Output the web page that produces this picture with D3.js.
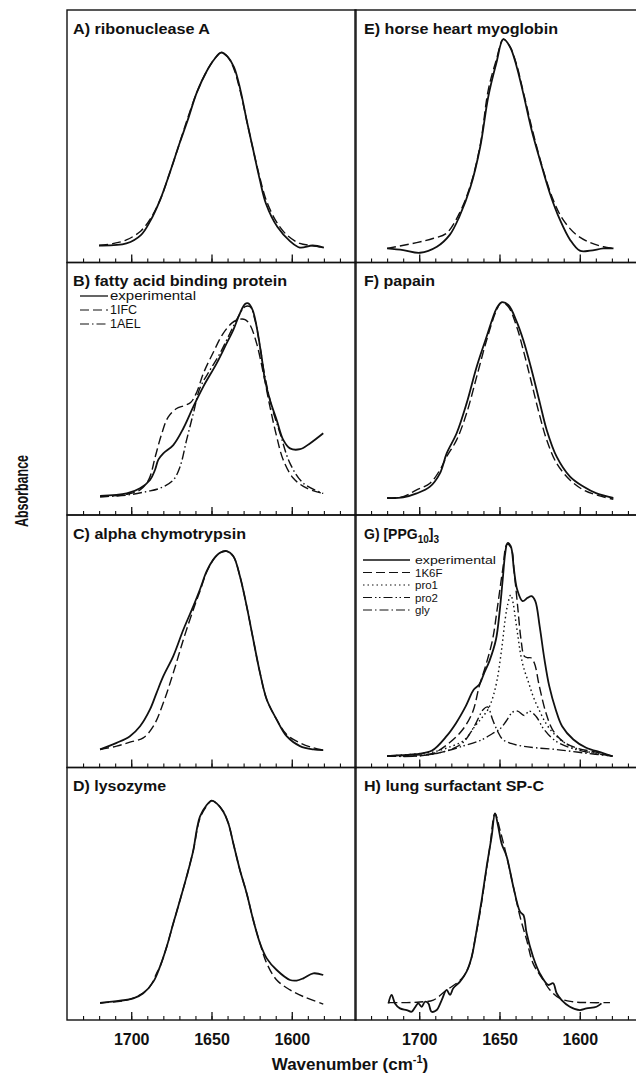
<!DOCTYPE html>
<html>
<head>
<meta charset="utf-8">
<script src="https://cdn.jsdelivr.net/npm/d3@7"></script>
<style>
  body { margin: 0; background: #fff; }
  text { font-family: "Liberation Sans", Arial, sans-serif; fill: #111; }
</style>
</head>
<body>
<div id="chart"></div>
<script>
// wavenumber (cm-1), absorbance (normalised)
const expA = [[1720,0],[1703,0.01],[1694,0.05],[1688,0.12],[1682,0.22],[1676,0.35],[1670,0.49],[1665,0.6],[1659,0.74],[1653,0.84],[1648,0.9],[1644,0.93],[1640,0.91],[1636,0.86],[1632,0.75],[1628,0.6],[1624,0.46],[1620,0.32],[1616,0.2],[1609,0.09],[1601,0.02],[1595,-0.01],[1587,0],[1580,-0.01]];
const calcA = [[1720,0],[1711,0.01],[1703,0.027],[1694,0.07],[1688,0.13],[1682,0.22],[1676,0.35],[1670,0.49],[1665,0.61],[1659,0.74],[1653,0.84],[1648,0.9],[1644,0.93],[1640,0.91],[1636,0.85],[1632,0.74],[1628,0.6],[1624,0.46],[1620,0.33],[1616,0.22],[1610,0.12],[1603,0.05],[1595,0.01],[1588,0],[1580,-0.01]];

const expB = [[1719.4,0.01],[1702.8,0.022],[1694.5,0.047],[1688.3,0.087],[1685.2,0.135],[1683.1,0.185],[1680,0.215],[1673.8,0.255],[1667.5,0.336],[1661.3,0.44],[1655.1,0.537],[1646.8,0.649],[1640.6,0.745],[1636.4,0.81],[1632.3,0.89],[1629.1,0.935],[1627.1,0.938],[1624.4,0.906],[1621.9,0.826],[1618.8,0.681],[1616.7,0.569],[1613.6,0.472],[1609.4,0.376],[1605.3,0.28],[1601.1,0.239],[1594.9,0.235],[1588.7,0.263],[1580.4,0.312]];
const calcB1IFC = [[1719.4,0.006],[1702.8,0.018],[1694.5,0.039],[1689,0.09],[1685,0.2],[1681,0.31],[1677,0.39],[1672,0.43],[1667,0.445],[1663,0.46],[1659.2,0.51],[1655.1,0.6],[1649,0.7],[1643,0.79],[1637,0.845],[1632.3,0.862],[1629.1,0.86],[1626,0.834],[1621.9,0.745],[1617.7,0.601],[1613.6,0.44],[1609.4,0.296],[1605.3,0.183],[1599,0.095],[1590.7,0.047],[1580.4,0.022]];
const calcB1AEL = [[1719.4,0.006],[1702.8,0.014],[1690.4,0.031],[1682.1,0.047],[1673.8,0.087],[1669.6,0.151],[1665.5,0.28],[1661.3,0.408],[1657.2,0.53],[1650.9,0.617],[1644.7,0.697],[1638.5,0.794],[1633.3,0.874],[1629.1,0.922],[1626,0.922],[1622.9,0.858],[1619.8,0.729],[1616.7,0.585],[1612.5,0.44],[1607.3,0.312],[1601.1,0.167],[1592.8,0.071],[1580.4,0.022]];

const expC = [[1719.4,0.005],[1709.1,0.037],[1700.8,0.069],[1694.5,0.117],[1688.3,0.198],[1684.2,0.278],[1680,0.358],[1673.8,0.455],[1667.5,0.583],[1661.3,0.696],[1657.2,0.776],[1653,0.864],[1648.9,0.92],[1644.7,0.953],[1640.6,0.961],[1636.4,0.936],[1632.3,0.84],[1628.1,0.696],[1624,0.535],[1619.8,0.374],[1615.6,0.246],[1609.4,0.149],[1603.2,0.069],[1594.9,0.021],[1586.6,0.005],[1580.4,0.002]];
const calcC = [[1719.4,0.005],[1709.1,0.021],[1700.8,0.04],[1692.5,0.061],[1686.2,0.117],[1680,0.23],[1673.8,0.374],[1667.5,0.535],[1661.3,0.68],[1657.2,0.768],[1653,0.86],[1648.9,0.92],[1644.7,0.953],[1640.6,0.961],[1636.4,0.936],[1632.3,0.84],[1628.1,0.696],[1624,0.535],[1619.8,0.374],[1615.6,0.246],[1609.4,0.149],[1603.2,0.077],[1594.9,0.037],[1586.6,0.013],[1580.4,0.002]];

const expD = [[1719.4,0],[1707,0.011],[1698.7,0.022],[1692.5,0.047],[1686.2,0.103],[1682.1,0.175],[1677.9,0.271],[1673.8,0.384],[1669.6,0.496],[1665.5,0.609],[1661.3,0.737],[1659.2,0.834],[1657.2,0.898],[1653,0.954],[1649.9,0.975],[1646.8,0.962],[1642.6,0.922],[1639.5,0.866],[1636.4,0.769],[1632.3,0.641],[1628.1,0.529],[1624,0.4],[1619.8,0.288],[1615.6,0.215],[1609.4,0.159],[1601.1,0.111],[1597,0.108],[1592.8,0.119],[1586.6,0.143],[1580.4,0.135]];
const calcD = [[1719.4,0],[1702.8,0.014],[1694.5,0.039],[1688.3,0.079],[1684.2,0.143],[1682.1,0.175],[1677.9,0.271],[1673.8,0.384],[1669.6,0.496],[1665.5,0.609],[1661.3,0.737],[1657.2,0.89],[1653,0.95],[1649.9,0.975],[1646.8,0.962],[1642.6,0.922],[1639.5,0.866],[1636.4,0.769],[1632.3,0.641],[1628.1,0.529],[1624,0.4],[1619.8,0.288],[1615.6,0.191],[1609.4,0.111],[1601.1,0.063],[1592.8,0.031],[1580.4,-0.005]];

const expE = [[1720,-0.014],[1710,-0.022],[1699.5,-0.035],[1689,-0.006],[1681,0.051],[1675,0.139],[1668,0.284],[1662,0.476],[1657,0.717],[1652,0.878],[1647.6,0.994],[1643.5,0.958],[1639.3,0.862],[1635.2,0.733],[1630,0.557],[1624.8,0.412],[1618.6,0.251],[1612.3,0.123],[1606,0.027],[1600,-0.025],[1593.6,-0.025],[1585.3,-0.014],[1579,-0.014]];
const calcE = [[1720,-0.014],[1701.6,0.014],[1691,0.035],[1683,0.059],[1675,0.155],[1668,0.292],[1662,0.484],[1657,0.749],[1652,0.894],[1647.6,0.994],[1643.5,0.958],[1639.3,0.87],[1635.2,0.741],[1629,0.541],[1622.8,0.364],[1616.5,0.219],[1610.3,0.123],[1602,0.051],[1593.6,0.014],[1585.3,-0.006],[1579,-0.014]];

const expF = [[1720,0],[1710,0.003],[1701.6,0.022],[1693.3,0.055],[1687.1,0.119],[1682.9,0.215],[1676.7,0.312],[1670.5,0.456],[1664.2,0.633],[1658,0.778],[1651.8,0.914],[1648.7,0.943],[1644.5,0.93],[1639.3,0.85],[1635.2,0.761],[1630,0.617],[1624.8,0.456],[1620.6,0.328],[1614.4,0.199],[1606.1,0.103],[1597.8,0.055],[1589.5,0.022],[1579.1,0]];
const calcF = [[1720,0],[1710,0.006],[1701.6,0.039],[1693.3,0.071],[1687.1,0.135],[1682.9,0.199],[1676.7,0.28],[1670.5,0.408],[1664.2,0.585],[1658,0.761],[1651.8,0.906],[1648.7,0.943],[1644.5,0.922],[1639.3,0.826],[1635.2,0.713],[1630,0.553],[1624.8,0.392],[1620.6,0.28],[1614.4,0.167],[1606.1,0.087],[1597.8,0.039],[1589.5,0.014],[1579.1,-0.006]];

const expG = [[1720,-0.027],[1710,-0.022],[1702,-0.018],[1692,0],[1683,0.069],[1677,0.133],[1671,0.214],[1666,0.294],[1662.6,0.318],[1659.5,0.374],[1656.3,0.431],[1652.2,0.535],[1650,0.663],[1648,0.824],[1646.4,0.953],[1645,1.0],[1643,0.985],[1641,0.872],[1639,0.776],[1635.6,0.72],[1632.5,0.736],[1630,0.744],[1627.7,0.72],[1625,0.599],[1622,0.439],[1619,0.31],[1615,0.198],[1611,0.117],[1604,0.053],[1596,0.013],[1586,-0.011],[1580,-0.027]];
const calcG1K6F = [[1720,-0.027],[1702,-0.022],[1691.6,-0.014],[1681.2,0.037],[1672.9,0.101],[1666.7,0.186],[1662.6,0.31],[1658.4,0.414],[1654.3,0.535],[1651.2,0.695],[1648,0.872],[1645.3,0.993],[1642.8,0.977],[1640.8,0.856],[1638.7,0.695],[1636.6,0.535],[1634.6,0.455],[1632.5,0.447],[1630.5,0.447],[1628.3,0.422],[1625.2,0.31],[1621.1,0.182],[1617,0.101],[1610.7,0.045],[1602.4,0.013],[1589.9,-0.008],[1579.5,-0.027]];
const pro1G = [[1720,-0.027],[1700,-0.015],[1690,-0.005],[1680,0.02],[1672,0.05],[1665,0.12],[1661,0.157],[1657,0.2],[1654,0.26],[1651.5,0.34],[1649.5,0.44],[1648,0.53],[1646.5,0.63],[1645,0.7],[1643,0.75],[1641.5,0.71],[1640,0.63],[1638.5,0.55],[1637,0.47],[1635,0.4],[1632,0.33],[1629,0.26],[1625,0.19],[1621,0.13],[1616,0.08],[1608,0.03],[1598,0],[1580,-0.027]];
const pro2G = [[1720,-0.027],[1702,-0.027],[1687.5,-0.011],[1672.9,0.021],[1661.5,0.05],[1654.3,0.082],[1649.7,0.104],[1645.9,0.141],[1641.8,0.185],[1638.7,0.19],[1634.6,0.169],[1631.4,0.19],[1627.3,0.165],[1622.2,0.101],[1614.9,0.045],[1602.4,0.005],[1579.5,-0.027]];
const glyG = [[1720,-0.027],[1702,-0.027],[1683.3,-0.003],[1672.9,0.037],[1665.7,0.117],[1660.1,0.198],[1657.4,0.21],[1654.3,0.149],[1651.2,0.093],[1648,0.053],[1642.8,0.034],[1635.6,0.021],[1627.3,0.013],[1614.9,0.005],[1598.2,-0.011],[1579.5,-0.027]];

const expH = [[1719.2,-0.002],[1717.2,0.039],[1715.1,-0.002],[1712,-0.026],[1707.8,-0.034],[1704.7,-0.042],[1702.6,-0.021],[1700.6,-0.002],[1698.5,-0.018],[1696.4,0.006],[1694.3,-0.002],[1692.3,-0.042],[1689.1,-0.034],[1686,0.014],[1682.9,0.063],[1680.8,0.039],[1678.8,0.071],[1674.6,0.103],[1670.5,0.151],[1667.3,0.223],[1664.2,0.352],[1661.1,0.496],[1658,0.657],[1654.9,0.802],[1652.8,0.914],[1650.8,0.85],[1648.7,0.769],[1645.5,0.705],[1641.4,0.561],[1637.2,0.44],[1635.1,0.424],[1633.1,0.336],[1629.1,0.223],[1624.9,0.143],[1619.6,0.087],[1616.6,0.095],[1614.4,0.047],[1611.3,0.014],[1606.2,-0.018],[1600,-0.034],[1595.8,-0.026],[1589.6,-0.018],[1586.5,-0.002]];
const calcH = [[1719.2,0.002],[1707.8,0.002],[1699.5,0.005],[1691.2,0.014],[1682.9,0.063],[1676.7,0.095],[1672.5,0.127],[1668.4,0.191],[1665.3,0.304],[1662.2,0.432],[1659.1,0.593],[1656,0.753],[1652.8,0.914],[1649.7,0.834],[1645.5,0.705],[1641.4,0.561],[1637.2,0.416],[1633.1,0.304],[1629.1,0.191],[1622.8,0.111],[1618.6,0.063],[1612.4,0.022],[1604.2,0.006],[1595.8,0.002],[1581.2,0.002]];

const majorTicks = [1700, 1650, 1600];
const minorTicks = d3.range(1570, 1740, 10);
const legendB = ["experimental", "1IFC", "1AEL"];
const legendG = ["experimental", "1K6F", "pro1", "pro2", "gly"];

const W = 636, H = 1076;
const colX = [67, 355];
const top0 = 10, rowH = 252.5, panelW = 289;

const dashes = {
  solid: null,
  dash: "9,4",
  dashdot: "9,3,1.5,3",
  dashdotdot: "9,3,1.5,2.5,1.5,3",
  dot: "1.5,3"
};

const panels = [
  {col: 0, row: 0, label: "A) ribonuclease A", lw: 137, series: [[calcA, "dash"], [expA, "solid"]]},
  {col: 0, row: 1, label: "B) fatty acid binding protein", lw: 214, series: [[calcB1IFC, "dash"], [calcB1AEL, "dashdot"], [expB, "solid"]],
    legend: legendB, legendStyles: ["solid", "dash", "dashdot"], lx: [80, 108, 110], ly: 33.5, lstep: 14, lfs: 12.5, lexp: 86},
  {col: 0, row: 2, label: "C) alpha chymotrypsin", lw: 173, series: [[calcC, "dash"], [expC, "solid"]]},
  {col: 0, row: 3, label: "D) lysozyme", lw: 93, series: [[calcD, "dash"], [expD, "solid"]]},
  {col: 1, row: 0, label: "E) horse heart myoglobin", lw: 194, series: [[calcE, "dash"], [expE, "solid"]]},
  {col: 1, row: 1, label: "F) papain", lw: 71, series: [[calcF, "dash"], [expF, "solid"]]},
  {col: 1, row: 2, label: null, series: [[glyG, "dashdot"], [pro2G, "dashdotdot"], [pro1G, "dot"], [calcG1K6F, "dash"], [expG, "solid"]],
    legend: legendG, legendStyles: ["solid", "dash", "dot", "dashdotdot", "dashdot"], lx: [363, 410, 415], ly: 45, lstep: 12.5, lfs: 11.5, lexp: 81},
  {col: 1, row: 3, label: "H) lung surfactant SP-C", lw: 180, series: [[calcH, "dash"], [expH, "solid"]]}
];

const svg = d3.select("#chart").append("svg")
  .attr("width", W)
  .attr("height", H);

panels.forEach(p => {
  const x0 = colX[p.col];
  const y0 = top0 + p.row * rowH;
  const x = d3.scaleLinear().domain([1740, 1560]).range([x0, x0 + panelW]);
  const y = d3.scaleLinear().domain([0, 1]).range([y0 + rowH - 17, y0 + 28]);
  const g = svg.append("g");

  g.append("rect")
    .attr("x", x0).attr("y", y0)
    .attr("width", panelW).attr("height", rowH)
    .attr("fill", "none")
    .attr("stroke", "#111")
    .attr("stroke-width", 1.4);

  // ticks point up into the panel
  g.append("g")
    .attr("transform", `translate(0,${y0 + rowH})`)
    .call(d3.axisBottom(x).tickValues(minorTicks).tickSize(-4).tickFormat(""))
    .call(a => a.select(".domain").remove())
    .selectAll("line").attr("stroke", "#111").attr("stroke-width", 1.1);

  const maj = g.append("g")
    .attr("transform", `translate(0,${y0 + rowH})`)
    .call(d3.axisBottom(x).tickValues(majorTicks).tickSize(-8).tickPadding(13.5)
      .tickFormat(p.row === 3 ? d3.format("d") : ""))
    .call(a => a.select(".domain").remove());
  maj.selectAll("line").attr("stroke", "#111").attr("stroke-width", 1.3);
  maj.selectAll("text")
    .attr("font-size", 16)
    .attr("font-weight", "bold")
    .attr("font-family", "'Liberation Sans', Arial, sans-serif")
    .attr("fill", "#111");

  const line = d3.line()
    .x(d => x(d[0]))
    .y(d => y(d[1]))
    .curve(d3.curveCatmullRom.alpha(0.5));

  p.series.forEach(([data, style]) => {
    g.append("path")
      .datum(data)
      .attr("d", line)
      .attr("fill", "none")
      .attr("stroke", "#111")
      .attr("stroke-width", style === "solid" ? 1.8 : 1.4)
      .attr("stroke-dasharray", dashes[style]);
  });

  if (p.label) {
    g.append("text")
      .attr("x", x0 + (p.col === 0 ? 6 : 9))
      .attr("y", y0 + 23.5)
      .attr("font-size", 14)
      .attr("font-weight", "bold")
      .attr("textLength", p.lw)
      .attr("lengthAdjust", "spacingAndGlyphs")
      .text(p.label);
  } else {
    const t = g.append("text")
      .attr("x", x0 + 9)
      .attr("y", y0 + 23.5)
      .attr("font-size", 14)
      .attr("font-weight", "bold");
    t.append("tspan").text("G) [PPG");
    t.append("tspan").attr("font-size", 10).attr("dy", 4).text("10");
    t.append("tspan").attr("dy", -4).text("]");
    t.append("tspan").attr("font-size", 10).attr("dy", 4).text("3");
  }

  if (p.legend) {
    p.legend.forEach((name, i) => {
      const ly = y0 + p.ly + i * p.lstep;
      const st = p.legendStyles[i];
      g.append("line")
        .attr("x1", p.lx[0]).attr("x2", p.lx[1])
        .attr("y1", ly).attr("y2", ly)
        .attr("stroke", "#111")
        .attr("stroke-width", st === "solid" ? 1.3 : 1.2)
        .attr("stroke-dasharray", dashes[st]);
      const t = g.append("text")
        .attr("x", p.lx[2])
        .attr("y", ly + 4)
        .attr("font-size", p.lfs)
        .text(name);
      if (name === "experimental") {
        t.attr("textLength", p.lexp)
          .attr("lengthAdjust", "spacingAndGlyphs");
      }
    });
  }
});

// axis titles
const xt = svg.append("text")
  .attr("x", 350)
  .attr("y", 1070)
  .attr("text-anchor", "middle")
  .attr("font-size", 17)
  .attr("font-weight", "bold");
xt.append("tspan").text("Wavenumber (cm");
xt.append("tspan").attr("font-size", 11).attr("dy", -7).text("-1");
xt.append("tspan").attr("dy", 7).text(")");

svg.append("text")
  .attr("transform", "translate(28,491) rotate(-90)")
  .attr("text-anchor", "middle")
  .attr("font-size", 18)
  .attr("font-weight", "bold")
  .attr("textLength", 72)
  .attr("lengthAdjust", "spacingAndGlyphs")
  .text("Absorbance");
</script>
</body>
</html>
